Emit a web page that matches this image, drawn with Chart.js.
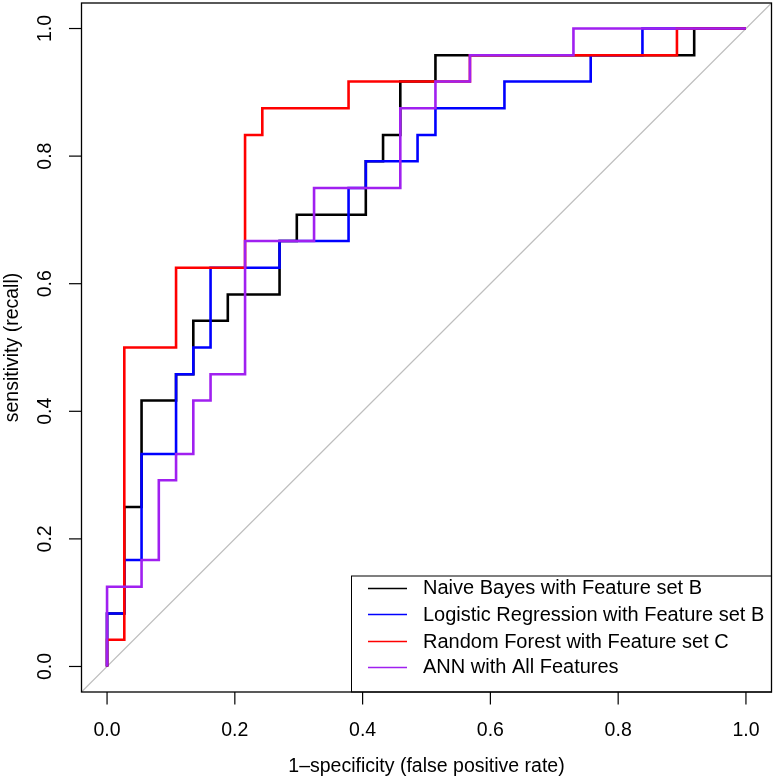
<!DOCTYPE html>
<html>
<head>
<meta charset="utf-8">
<script src="https://cdn.jsdelivr.net/npm/chart.js@4/dist/chart.umd.min.js"></script>
<style>
html,body{margin:0;padding:0;background:#fff;}
#wrap{width:775px;height:779px;position:relative;}
</style>
</head>
<body>
<div id="wrap"><canvas id="c" width="775" height="779"></canvas></div>
<script>
// ---- data (fpr = 1-specificity, tpr = sensitivity) ----
const seriesNames = [
  "Naive Bayes with Feature set B",
  "Logistic Regression with Feature set B",
  "Random Forest with Feature set C",
  "ANN with All Features"
];
const seriesColors = ["#000000", "#0000FF", "#FF0000", "#A020F0"];

const nbFpr = [0,0,0.027,0.027,0.054,0.054,0.108,0.108,0.135,0.135,0.189,0.189,0.270,0.270,0.297,0.297,0.405,0.405,0.432,0.432,0.459,0.459,0.514,0.514,0.919,0.919,1];
const nbTpr = [0,0.083,0.083,0.25,0.25,0.417,0.417,0.458,0.458,0.542,0.542,0.583,0.583,0.667,0.667,0.708,0.708,0.792,0.792,0.833,0.833,0.917,0.917,0.958,0.958,1,1];

const lrFpr = [0,0,0.027,0.027,0.054,0.054,0.108,0.108,0.135,0.135,0.162,0.162,0.270,0.270,0.378,0.378,0.405,0.405,0.486,0.486,0.514,0.514,0.622,0.622,0.757,0.757,0.838,0.838,1];
const lrTpr = [0,0.083,0.083,0.167,0.167,0.333,0.333,0.458,0.458,0.5,0.5,0.625,0.625,0.667,0.667,0.75,0.75,0.792,0.792,0.833,0.833,0.875,0.875,0.917,0.917,0.958,0.958,1,1];

const rfFpr = [0,0,0.027,0.027,0.108,0.108,0.216,0.216,0.243,0.243,0.378,0.378,0.568,0.568,0.892,0.892,1];
const rfTpr = [0,0.042,0.042,0.5,0.5,0.625,0.625,0.833,0.833,0.875,0.875,0.917,0.917,0.958,0.958,1,1];

const annFpr = [0,0,0.054,0.054,0.081,0.081,0.108,0.108,0.135,0.135,0.162,0.162,0.216,0.216,0.324,0.324,0.459,0.459,0.514,0.514,0.568,0.568,0.730,0.730,1];
const annTpr = [0,0.125,0.125,0.167,0.167,0.292,0.292,0.333,0.333,0.417,0.417,0.458,0.458,0.667,0.667,0.75,0.75,0.875,0.875,0.917,0.917,0.958,0.958,1,1];

const axisMin = -0.04, axisMax = 1.04;
const tickValues = [0, 0.2, 0.4, 0.6, 0.8, 1.0];
const tickLabels = ["0.0", "0.2", "0.4", "0.6", "0.8", "1.0"];
const xTitle = "1\u2013specificity (false positive rate)";
const yTitle = "sensitivity (recall)";

// ---- build datasets ----
function pts(xs, ys){ return xs.map((x,i)=>({x:x, y:ys[i]})); }
const curves = [
  pts(nbFpr, nbTpr), pts(lrFpr, lrTpr), pts(rfFpr, rfTpr), pts(annFpr, annTpr)
];
const datasets = curves.map((d,i)=>({
  label: seriesNames[i], data: d, showLine: true, borderColor: seriesColors[i],
  backgroundColor: seriesColors[i], borderWidth: 2.6, pointRadius: 0, fill: false,
  tension: 0, order: 3 - i, borderJoinStyle: 'miter', borderCapStyle: 'butt'
}));
datasets.push({
  label: 'diag', data: [{x: axisMin, y: axisMin}, {x: axisMax, y: axisMax}],
  showLine: true, borderColor: '#BEBEBE', borderWidth: 1.2, pointRadius: 0, fill: false, order: 10
});

const FONT = '"Liberation Sans", Arial, Helvetica, sans-serif';

const rAxes = {
  id: 'rAxes',
  afterDatasetsDraw(chart){
    const ctx = chart.ctx, a = chart.chartArea;
    const xs = chart.scales.x, ys = chart.scales.y;
    ctx.save();
    // legend box
    const lx = 351, ly = 575.5, lr = a.right, lb = a.bottom;
    ctx.fillStyle = '#fff';
    ctx.fillRect(lx, ly, lr - lx, lb - ly);
    ctx.strokeStyle = '#000'; ctx.lineWidth = 1;
    ctx.strokeRect(lx + 0.5, ly + 0.5, lr - lx - 0.5, lb - ly - 0.5);
    const rowY = [587.7, 614.3, 641, 666.7];
    ctx.font = '20px ' + FONT;
    ctx.textAlign = 'left'; ctx.textBaseline = 'middle';
    seriesNames.forEach((n,i)=>{
      ctx.strokeStyle = seriesColors[i]; ctx.lineWidth = 1.3;
      ctx.beginPath(); ctx.moveTo(368, Math.round(rowY[i]) + 0.5); ctx.lineTo(407, Math.round(rowY[i]) + 0.5); ctx.stroke();
      ctx.fillStyle = '#000';
      ctx.fillText(n, 423, rowY[i] + 1);
    });
    // plot box
    ctx.strokeStyle = '#000'; ctx.lineWidth = 1.3;
    ctx.strokeRect(a.left, a.top, a.right - a.left, a.bottom - a.top);
    // ticks
    ctx.lineWidth = 1.2;
    ctx.font = '19.5px ' + FONT;
    ctx.fillStyle = '#000';
    tickValues.forEach((v,i)=>{
      const px = xs.getPixelForValue(v);
      ctx.beginPath(); ctx.moveTo(px, a.bottom); ctx.lineTo(px, a.bottom + 12.5); ctx.stroke();
      ctx.textAlign = 'center'; ctx.textBaseline = 'middle';
      ctx.fillText(tickLabels[i], px, 731);
      const py = ys.getPixelForValue(v);
      ctx.beginPath(); ctx.moveTo(a.left, py); ctx.lineTo(a.left - 12.5, py); ctx.stroke();
      ctx.save(); ctx.translate(46, py); ctx.rotate(-Math.PI/2);
      ctx.fillText(tickLabels[i], 0, 0); ctx.restore();
    });
    // titles
    ctx.textAlign = 'center'; ctx.textBaseline = 'middle';
    ctx.fillText(xTitle, (a.left + a.right)/2, 767);
    ctx.save(); ctx.translate(13, (a.top + a.bottom)/2); ctx.rotate(-Math.PI/2);
    ctx.fillText(yTitle, 0, 0); ctx.restore();
    ctx.restore();
  }
};

new Chart(document.getElementById('c'), {
  type: 'scatter',
  data: { datasets: datasets },
  options: {
    responsive: false, animation: false,
    layout: { padding: { left: 81.5, top: 3, right: 3.5, bottom: 87 } },
    scales: {
      x: { type: 'linear', min: axisMin, max: axisMax, display: false },
      y: { type: 'linear', min: axisMin, max: axisMax, display: false }
    },
    plugins: { legend: { display: false }, tooltip: { enabled: false } }
  },
  plugins: [rAxes]
});
</script>
</body>
</html>
